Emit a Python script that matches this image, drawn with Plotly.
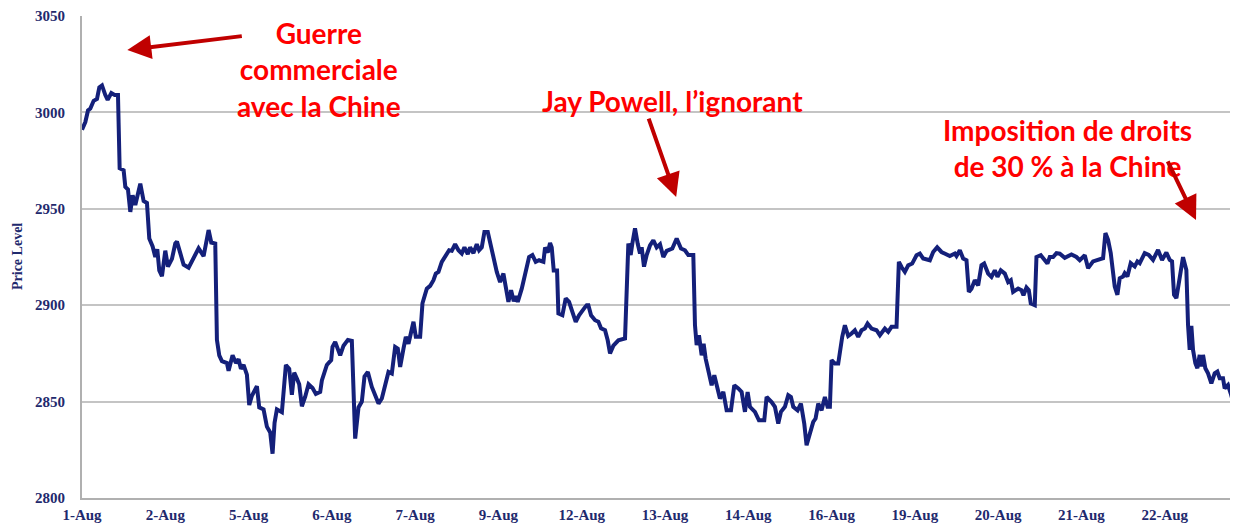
import plotly.graph_objects as go

# Trading-day position (0 = 1-Aug) and price level
t = [0.000, 0.040, 0.072, 0.100, 0.140, 0.180, 0.208, 0.240, 0.280, 0.308, 0.352, 0.392, 0.432, 0.452,
     0.500, 0.520, 0.552, 0.580, 0.608, 0.640, 0.700, 0.740, 0.780, 0.808, 0.848, 0.880, 0.904, 0.928,
     0.960, 1.000, 1.032, 1.080, 1.120, 1.140, 1.180, 1.220, 1.280, 1.320, 1.400, 1.460, 1.488, 1.520,
     1.552, 1.600, 1.620, 1.648, 1.680, 1.740, 1.760, 1.808, 1.848, 1.880, 1.908, 1.940, 1.980, 2.008,
     2.040, 2.080, 2.100, 2.128, 2.180, 2.220, 2.260, 2.288, 2.312, 2.340, 2.400, 2.448, 2.488, 2.520,
     2.548, 2.580, 2.608, 2.640, 2.680, 2.720, 2.768, 2.808, 2.860, 2.880, 2.940, 2.992, 3.008, 3.040,
     3.100, 3.140, 3.192, 3.240, 3.280, 3.320, 3.360, 3.392, 3.432, 3.480, 3.520, 3.560, 3.600, 3.640,
     3.680, 3.720, 3.760, 3.792, 3.820, 3.860, 3.888, 3.920, 3.952, 3.980, 4.008, 4.060, 4.088, 4.140,
     4.180, 4.220, 4.248, 4.280, 4.320, 4.368, 4.408, 4.440, 4.480, 4.520, 4.560, 4.592, 4.632, 4.660,
     4.700, 4.740, 4.768, 4.800, 4.832, 4.872, 4.900, 4.940, 4.980, 5.020, 5.060, 5.088, 5.120, 5.152,
     5.184, 5.208, 5.232, 5.280, 5.320, 5.368, 5.408, 5.448, 5.488, 5.540, 5.560, 5.592, 5.620, 5.640,
     5.664, 5.704, 5.720, 5.768, 5.808, 5.848, 5.888, 5.928, 5.968, 6.020, 6.040,
     6.060, 6.080, 6.112, 6.160, 6.200, 6.232, 6.280, 6.312, 6.340, 6.380, 6.440, 6.520, 6.560, 6.588,
     6.608, 6.640, 6.672, 6.700, 6.720, 6.748, 6.780, 6.820, 6.860, 6.900, 6.940, 6.980, 7.020, 7.088,
     7.140, 7.192, 7.240, 7.280, 7.340, 7.360, 7.380, 7.408, 7.440, 7.464, 7.488, 7.520, 7.560, 7.592,
     7.620, 7.660, 7.700, 7.740, 7.792, 7.832, 7.880, 7.920, 7.960, 7.992, 8.020, 8.080, 8.128, 8.192,
     8.220, 8.280, 8.320, 8.360, 8.392, 8.440, 8.480, 8.512, 8.540, 8.592, 8.632, 8.672, 8.700, 8.740,
     8.780, 8.808, 8.840, 8.880, 8.920, 8.952, 8.980, 9.000, 9.040,
     9.080, 9.100, 9.128, 9.160, 9.200, 9.240, 9.280, 9.320, 9.360, 9.400, 9.432, 9.480, 9.540, 9.580,
     9.640, 9.680, 9.720, 9.780, 9.808, 9.840, 9.880, 9.920, 9.968, 10.020, 10.060, 10.100, 10.180,
     10.220, 10.268, 10.320, 10.380, 10.420, 10.480, 10.500, 10.540, 10.580, 10.620, 10.648, 10.680,
     10.720, 10.760, 10.800, 10.832, 10.880, 10.920, 10.960, 10.992, 11.032, 11.080, 11.120, 11.152,
     11.180, 11.240, 11.280, 11.304, 11.340, 11.368, 11.392, 11.440, 11.460, 11.512, 11.560, 11.592,
     11.620, 11.660, 11.700, 11.740, 11.800, 11.880, 11.940, 11.980, 12.040,
     12.080, 12.140, 12.200, 12.260, 12.288, 12.320, 12.352, 12.380, 12.400, 12.432, 12.460, 12.500,
     12.520, 12.552, 12.592, 12.640, 12.672, 12.700, 12.760, 12.808, 12.860, 12.920, 12.968, 13.020,
     13.060, 13.088, 13.112, 13.140, 13.168, 13.192, 13.220, 13.260, 13.280, 13.300, 13.320, 13.340,
     13.368, 13.392, 13.420, 13.440, 13.460, 13.488, 13.520, 13.560, 13.600, 13.632, 13.660, 13.700,
     13.720, 13.760, 13.792, 13.820, 13.848, 13.872]

price = [2991.0, 2995.0, 3001.0, 3002.0, 3006.0, 3007.0, 3013.0, 3014.0, 3009.0, 3006.5, 3010.0, 3009.0, 3009.0, 2971.0,
         2970.0, 2961.4, 2960.0, 2948.4, 2957.0, 2952.0, 2963.0, 2954.0, 2953.0, 2934.6, 2930.5, 2925.0, 2929.0, 2918.0,
         2915.0, 2928.3, 2920.0, 2924.0, 2932.0, 2933.0, 2927.0, 2921.0, 2919.5, 2923.0, 2929.5, 2925.5, 2932.0, 2939.0,
         2932.5, 2932.0, 2882.0, 2874.0, 2871.0, 2870.0, 2866.0, 2874.0, 2870.0, 2872.0, 2867.0, 2869.0, 2864.0, 2848.2,
         2853.0, 2855.7, 2858.0, 2847.0, 2846.0, 2837.0, 2834.0, 2823.0, 2839.0, 2846.0, 2844.5, 2869.0, 2867.0, 2853.5,
         2865.0, 2862.0, 2859.0, 2847.6, 2852.5, 2859.0, 2857.0, 2854.0, 2855.0, 2861.0, 2869.0, 2871.5, 2878.4, 2881.0,
         2874.0, 2879.0, 2882.0, 2881.5, 2830.8, 2847.0, 2850.0, 2863.0, 2865.4, 2857.6, 2853.3, 2849.0, 2851.6, 2857.6,
         2865.4, 2864.6, 2878.4, 2877.5, 2868.0, 2877.5, 2883.6, 2880.0, 2887.0, 2891.4, 2883.6, 2883.6, 2901.0, 2908.6,
         2910.0, 2913.0, 2916.4, 2917.3, 2922.5, 2926.0, 2928.5, 2928.2, 2931.6, 2928.5, 2926.8, 2930.0, 2926.5, 2930.0,
         2927.0, 2931.6, 2928.5, 2930.0, 2938.0, 2938.0, 2932.0, 2924.0, 2917.3, 2912.0, 2916.4, 2909.5, 2901.7, 2907.8,
         2902.0, 2904.7, 2901.7, 2908.6, 2916.4, 2925.0, 2926.0, 2922.5, 2923.3, 2922.5, 2930.0, 2927.3, 2932.3, 2930.0,
         2918.0, 2918.0, 2895.7, 2894.8, 2903.5, 2901.7, 2896.5, 2891.4, 2894.8, 2898.3, 2899.0,
         2900.0, 2900.0, 2894.8, 2892.2, 2891.4, 2888.0, 2887.0, 2881.8, 2875.0, 2879.0, 2881.8, 2882.7, 2932.0, 2926.0,
         2932.0, 2939.8, 2932.0, 2926.8, 2930.0, 2920.0, 2926.0, 2931.0, 2933.7, 2930.0, 2931.6, 2925.0, 2928.2, 2929.4,
         2934.6, 2929.4, 2928.5, 2926.0, 2926.0, 2889.6, 2879.3, 2884.4, 2874.0, 2880.0, 2872.3, 2867.0, 2858.5, 2863.7,
         2858.5, 2851.6, 2855.0, 2845.5, 2845.5, 2858.5, 2856.8, 2855.0, 2844.7, 2855.0, 2847.3, 2844.7, 2840.3, 2840.3,
         2852.4, 2849.8, 2847.3, 2838.6, 2844.7, 2847.3, 2853.3, 2852.4, 2847.3, 2845.5, 2849.0, 2838.6, 2827.4, 2834.3,
         2839.5, 2841.2, 2849.0, 2845.5, 2852.4, 2847.3, 2847.3, 2871.5, 2869.7,
         2869.7, 2876.7, 2883.6, 2889.6, 2884.0, 2885.3, 2887.0, 2883.6, 2887.0, 2887.9, 2890.5, 2887.9, 2887.0, 2884.4,
         2887.9, 2886.2, 2888.8, 2888.8, 2922.5, 2919.8, 2917.3, 2920.7, 2921.6, 2925.9, 2926.8, 2924.2, 2923.3,
         2927.6, 2930.0, 2927.6, 2926.5, 2925.5, 2926.8, 2925.5, 2928.5, 2924.2, 2923.3, 2906.9, 2908.6,
         2913.0, 2910.3, 2920.7, 2921.6, 2916.4, 2914.7, 2918.1, 2914.7, 2918.1, 2916.4, 2912.0, 2913.0,
         2906.9, 2908.6, 2907.8, 2905.2, 2909.2, 2907.8, 2900.9, 2900.0, 2925.0, 2925.9, 2923.3, 2921.6,
         2925.0, 2925.0, 2927.0, 2926.7, 2924.6, 2926.3, 2925.0, 2923.3, 2925.9,
         2919.2, 2922.7, 2923.5, 2924.4, 2937.4, 2933.9, 2927.0, 2917.5, 2909.7, 2905.4, 2914.0, 2914.9,
         2916.6, 2914.9, 2921.8, 2920.1, 2922.7, 2921.8, 2927.0, 2926.1, 2923.5, 2928.7, 2923.5, 2927.3,
         2923.5, 2922.7, 2905.4, 2903.6, 2913.2, 2917.5, 2924.9, 2918.3, 2889.8, 2876.8, 2889.3, 2876.8,
         2869.9, 2867.3, 2874.2, 2868.2, 2874.2, 2867.3, 2864.7, 2859.5, 2864.7, 2865.6, 2862.1, 2862.1,
         2856.9, 2858.6, 2854.3, 2850.9, 2846.0, 2847.4]

tick_labels = ["1-Aug", "2-Aug", "5-Aug", "6-Aug", "7-Aug", "9-Aug", "12-Aug", "13-Aug",
               "14-Aug", "16-Aug", "19-Aug", "20-Aug", "21-Aug", "22-Aug"]
y_ticks = [2800, 2850, 2900, 2950, 3000, 3050]

navy = "#14207a"
label_col = "#1f2a6e"
axis_font = dict(family="Liberation Serif", size=15, color=label_col, weight="bold")

fig = go.Figure()
fig.add_trace(go.Scatter(x=t, y=price, mode="lines",
                         line=dict(color=navy, width=4), hoverinfo="skip"))

fig.update_layout(
    width=1230, height=517,
    margin=dict(l=74, r=0, t=8, b=27),
    paper_bgcolor="white", plot_bgcolor="white",
    showlegend=False,
    xaxis=dict(range=[0, 13.88], tickmode="array",
               tickvals=list(range(len(tick_labels))), ticktext=tick_labels,
               showgrid=False, zeroline=False, showline=True, linecolor="#b0b0b0", linewidth=2,
               ticks="", tickfont=axis_font, automargin=False, ticklabelstandoff=2),
    yaxis=dict(range=[2800, 3050], tickmode="array", tickvals=y_ticks,
               showgrid=True, gridcolor="#c4c4c4", gridwidth=1.5, zeroline=False,
               showline=True, linecolor="#b0b0b0", linewidth=2,
               ticks="", tickfont=axis_font, ticklabelstandoff=12, automargin=False),
)

red = "#ff0000"
txt_font = dict(family="Lato", size=28, color=red, weight="bold")
fig.add_annotation(x=2.849, y=3022, text="Guerre<br>commerciale<br>avec la Chine",
                   showarrow=False, font=txt_font, xanchor="center", yanchor="middle")
fig.add_annotation(x=7.086, y=3006, text="Jay Powell, l\u2019ignorant",
                   showarrow=False, font=txt_font, xanchor="center", yanchor="middle")
fig.add_annotation(x=11.828, y=2981.5, text="Imposition de droits<br>de 30 % \u00e0 la Chine",
                   showarrow=False, font=txt_font, xanchor="center", yanchor="middle")

arrow_col = "#c00000"
for (ax_, ay_, tx, ty) in [(116, -14, 0.544, 3032.4), (-28, -80, 7.134, 2956.1), (-29, -60, 13.376, 2944.2)]:
    fig.add_annotation(x=tx, y=ty, ax=ax_, ay=ay_, text="", showarrow=True,
                       arrowhead=2, arrowsize=1.2, arrowwidth=4, arrowcolor=arrow_col)

fig.add_annotation(xref="paper", yref="paper", x=0, y=0.5, xshift=-65, xanchor="center",
                   yanchor="middle", text="Price Level", textangle=-90, showarrow=False,
                   font=dict(family="Liberation Serif", size=14, color=label_col, weight="bold"))

fig.write_html("out.html")
